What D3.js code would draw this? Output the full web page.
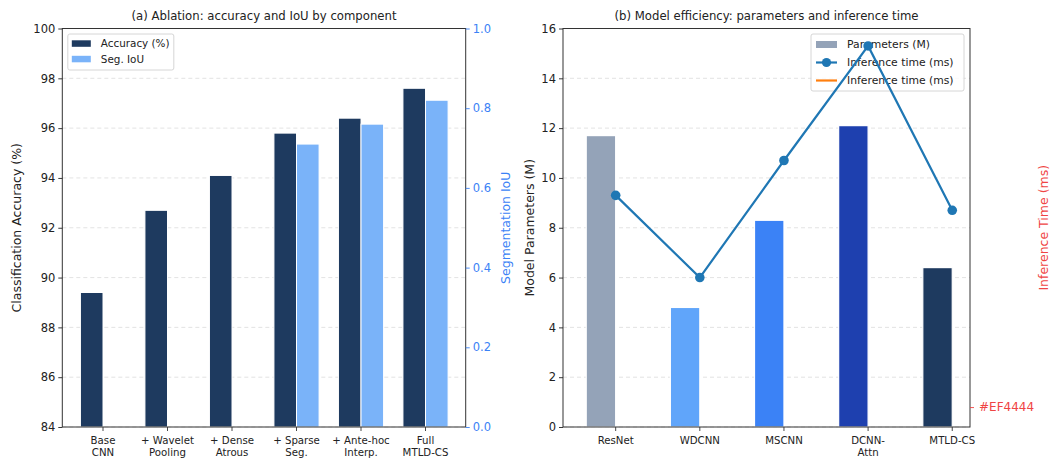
<!DOCTYPE html>
<html>
<head>
<meta charset="utf-8">
<script src="https://cdn.jsdelivr.net/npm/d3@7"></script>
<style>
  body { margin: 0; background: #fff; }
  svg { font-family: "DejaVu Sans", sans-serif; display: block; }
</style>
</head>
<body>
<svg id="fig" width="1051" height="458"></svg>
<script>
// ---- (a) ablation study ----
const ablationSteps = ["Base\nCNN", "+ Wavelet\nPooling", "+ Dense\nAtrous", "+ Sparse\nSeg.", "+ Ante-hoc\nInterp.", "Full\nMTLD-CS"];
const accuracy = [89.4, 92.7, 94.1, 95.8, 96.4, 97.6];
const segIoU = [null, null, null, 0.71, 0.76, 0.82];
const accuracyTicks = [84, 86, 88, 90, 92, 94, 96, 98, 100];
const iouTicks = [0.0, 0.2, 0.4, 0.6, 0.8, 1.0];

// ---- (b) efficiency comparison ----
const models = ["ResNet", "WDCNN", "MSCNN", "DCNN-\nAttn", "MTLD-CS"];
const paramsM = [11.7, 4.8, 8.3, 12.1, 6.4];
const inferenceMs = [9.3, 6.0, 10.7, 15.3, 8.7];
const modelColors = ["#94A3B8", "#60A5FA", "#3B82F6", "#1E40AF", "#1E3A5F"];
const paramTicks = [0, 2, 4, 6, 8, 10, 12, 14, 16];
const timeTicks = [0.8];
const timeTickLabels = ["#EF4444"];

const C = {
  acc: "#1E3A5F", iou: "#7AB3F9", axisBlue: "#3B82F6", red: "#EF4444",
  line: "#1f77b4", orange: "#ff7f0e", spine: "#333", grid: "#dcdcdc", text: "#222"
};
const FS = { title: 11.7, tick: 11.5, xtick: 10.2, label: 12.5, legend: 10.4 };

const svg = d3.select("#fig");

function grid(g, scale, ticks, x0, x1) {
  g.append("g").selectAll("line").data(ticks).join("line")
    .attr("x1", x0).attr("x2", x1)
    .attr("y1", d => scale(d)).attr("y2", d => scale(d))
    .attr("stroke", C.grid).attr("stroke-width", 0.8)
    .attr("stroke-dasharray", "4,3");
}

function styleAxis(g, color) {
  g.select(".domain").remove();
  g.selectAll(".tick line").attr("stroke", color).attr("stroke-width", 0.9);
  g.selectAll(".tick text").attr("fill", color).style("font-family", "DejaVu Sans")
    .attr("font-size", FS.tick);
}

function categoryAxis(g, scale, labels, y) {
  const t = g.append("g").selectAll("g").data(labels).join("g")
    .attr("transform", (d, i) => `translate(${scale(i)},${y})`);
  t.append("line").attr("y2", 4).attr("stroke", C.spine).attr("stroke-width", 0.9);
  const txt = t.append("text").attr("text-anchor", "middle")
    .attr("font-size", FS.xtick).attr("fill", C.text);
  txt.selectAll("tspan").data(d => d.split("\n")).join("tspan")
    .attr("x", 0).attr("y", (d, j) => 17 + j * 11.6).text(d => d);
}

function frame(g, x0, x1, y0, y1) {
  g.append("rect").attr("x", x0).attr("y", y0)
    .attr("width", x1 - x0).attr("height", y1 - y0)
    .attr("fill", "none").attr("stroke", C.spine).attr("stroke-width", 1);
}

// ================= Panel (a) =================
{
  const P = { l: 62.3, r: 465.7, t: 28.5, b: 427 };
  const g = svg.append("g");
  const x = d3.scaleLinear().domain([-0.631, 5.623]).range([P.l, P.r]);
  const y = d3.scaleLinear().domain([84, 100]).range([P.b, P.t]);
  const yIoU = d3.scaleLinear().domain([0, 1]).range([P.b, P.t]);
  const w = 0.35;

  grid(g, y, accuracyTicks, P.l, P.r);

  g.append("g").selectAll("rect").data(accuracy).join("rect")
    .attr("x", (d, i) => x(i - w)).attr("width", (d, i) => x(i) - x(i - w))
    .attr("y", d => y(d)).attr("height", d => y(84) - y(d))
    .attr("fill", C.acc).attr("stroke", "#fff").attr("stroke-width", 1);

  g.append("g").selectAll("rect").data(segIoU.map((v, i) => ({ v, i })).filter(d => d.v != null)).join("rect")
    .attr("x", d => x(d.i)).attr("width", d => x(d.i + w) - x(d.i))
    .attr("y", d => yIoU(d.v)).attr("height", d => yIoU(0) - yIoU(d.v))
    .attr("fill", C.iou).attr("stroke", "#fff").attr("stroke-width", 1);

  frame(g, P.l, P.r, P.t, P.b);

  g.append("g").attr("transform", `translate(${P.l},0)`)
    .call(d3.axisLeft(y).tickValues(accuracyTicks).tickSize(4).tickPadding(3).tickFormat(d3.format("d")))
    .call(a => styleAxis(a, C.text));
  g.append("g").attr("transform", `translate(${P.r},0)`)
    .call(d3.axisRight(yIoU).tickValues(iouTicks).tickSize(4).tickPadding(3).tickFormat(d3.format(".1f")))
    .call(a => styleAxis(a, C.axisBlue));
  categoryAxis(g, x, ablationSteps, P.b);

  g.append("text").attr("x", (P.l + P.r) / 2).attr("y", 20).attr("text-anchor", "middle")
    .attr("font-size", FS.title).attr("fill", C.text)
    .text("(a) Ablation: accuracy and IoU by component");
  g.append("text").attr("transform", `translate(21,${(P.t + P.b) / 2}) rotate(-90)`)
    .attr("text-anchor", "middle").attr("font-size", FS.label).attr("fill", C.text)
    .text("Classification Accuracy (%)");
  g.append("text").attr("transform", `translate(510,${(P.t + P.b) / 2}) rotate(-90)`)
    .attr("text-anchor", "middle").attr("font-size", FS.label).attr("fill", C.axisBlue)
    .text("Segmentation IoU");

  // legend
  const lg = g.append("g").attr("transform", `translate(${P.l + 5.5},${P.t + 5.5})`);
  lg.append("rect").attr("width", 106).attr("height", 36).attr("rx", 2)
    .attr("fill", "#fff").attr("fill-opacity", 0.8).attr("stroke", "#ccc").attr("stroke-width", 0.8);
  const items = [["Accuracy (%)", C.acc], ["Seg. IoU", C.iou]];
  const it = lg.selectAll("g.it").data(items).join("g").attr("class", "it")
    .attr("transform", (d, i) => `translate(4,${9.5 + i * 15.5})`);
  it.append("rect").attr("width", 19).attr("height", 6.5).attr("y", -3.2).attr("fill", d => d[1]);
  it.append("text").attr("x", 29).attr("dy", "0.35em").attr("font-size", FS.legend)
    .attr("fill", C.text).text(d => d[0]);
}

// ================= Panel (b) =================
{
  const P = { l: 563, r: 970, t: 28.5, b: 427 };
  const g = svg.append("g");
  const x = d3.scaleLinear().domain([-0.626, 4.211]).range([P.l, P.r]);
  const y = d3.scaleLinear().domain([0, 16]).range([P.b, P.t]);
  const yTime = d3.scaleLinear().domain([0, 16]).range([P.b, P.t]);
  const w = 0.35;

  grid(g, y, paramTicks, P.l, P.r);

  g.append("g").selectAll("rect").data(paramsM).join("rect")
    .attr("x", (d, i) => x(i - w)).attr("width", (d, i) => x(i) - x(i - w))
    .attr("y", d => y(d)).attr("height", d => y(0) - y(d))
    .attr("fill", (d, i) => modelColors[i]).attr("stroke", "#fff").attr("stroke-width", 1.2);

  frame(g, P.l, P.r, P.t, P.b);

  g.append("g").attr("transform", `translate(${P.l},0)`)
    .call(d3.axisLeft(y).tickValues(paramTicks).tickSize(4).tickPadding(3).tickFormat(d3.format("d")))
    .call(a => styleAxis(a, C.text));
  g.append("g").attr("transform", `translate(${P.r},0)`)
    .call(d3.axisRight(yTime).tickValues(timeTicks).tickSize(4).tickPadding(5)
      .tickFormat((d, i) => timeTickLabels[i]))
    .call(a => styleAxis(a, C.red))
    .call(a => a.selectAll(".tick text").attr("font-size", 12));
  categoryAxis(g, x, models, P.b);

  g.append("text").attr("x", (P.l + P.r) / 2).attr("y", 20).attr("text-anchor", "middle")
    .attr("font-size", FS.title).attr("fill", C.text)
    .text("(b) Model efficiency: parameters and inference time");
  g.append("text").attr("transform", `translate(534,${(P.t + P.b) / 2}) rotate(-90)`)
    .attr("text-anchor", "middle").attr("font-size", FS.label).attr("fill", C.text)
    .text("Model Parameters (M)");
  g.append("text").attr("transform", `translate(1047.5,${(P.t + P.b) / 2}) rotate(-90)`)
    .attr("text-anchor", "middle").attr("font-size", FS.label).attr("fill", C.red)
    .text("Inference Time (ms)");

  // legend
  const lg = g.append("g").attr("transform", `translate(811,34)`);
  lg.append("rect").attr("width", 153).attr("height", 57).attr("rx", 2)
    .attr("fill", "#fff").attr("fill-opacity", 0.8).attr("stroke", "#ccc").attr("stroke-width", 0.8);
  const rows = lg.selectAll("g.it").data(["Parameters (M)", "Inference time (ms)", "Inference time (ms)"])
    .join("g").attr("class", "it").attr("transform", (d, i) => `translate(5,${10.5 + i * 18})`);
  rows.append("text").attr("x", 31).attr("dy", "0.35em").attr("font-size", FS.legend + 0.4)
    .attr("fill", C.text).text(d => d);
  rows.filter((d, i) => i === 0).append("rect").attr("width", 21).attr("height", 7).attr("y", -3.5)
    .attr("fill", modelColors[0]);
  const l2 = rows.filter((d, i) => i === 1);
  l2.append("line").attr("x2", 21).attr("stroke", C.line).attr("stroke-width", 2.2);
  l2.append("circle").attr("cx", 10.5).attr("r", 4.6).attr("fill", C.line);
  rows.filter((d, i) => i === 2).append("line").attr("x2", 21)
    .attr("stroke", C.orange).attr("stroke-width", 2.2);

  // inference time line on the twin axis, drawn above the legend
  const line = d3.line().x((d, i) => x(i)).y(d => yTime(d));
  g.append("path").datum(inferenceMs).attr("d", line)
    .attr("fill", "none").attr("stroke", C.line).attr("stroke-width", 2.2);
  g.append("g").selectAll("circle").data(inferenceMs).join("circle")
    .attr("cx", (d, i) => x(i)).attr("cy", d => yTime(d)).attr("r", 4.8).attr("fill", C.line);
}
</script>
</body>
</html>
